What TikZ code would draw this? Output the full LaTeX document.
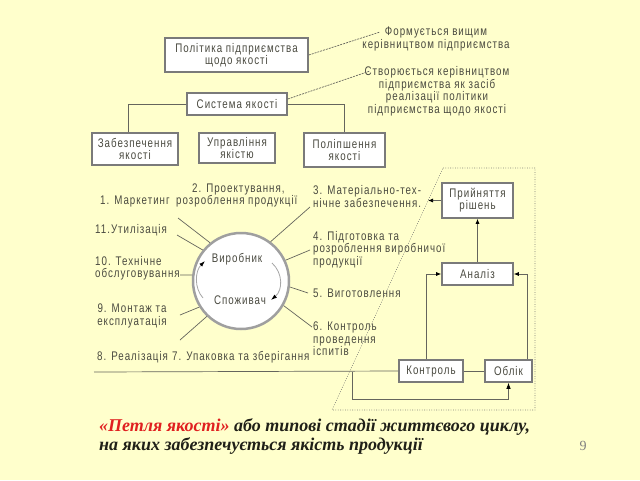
\documentclass[tikz,border=0pt]{standalone}
\usepackage{fontspec}
\setmainfont{Liberation Serif}
\newfontfamily\df[FakeStretch=0.78,LetterSpace=8]{Liberation Sans}
\usetikzlibrary{arrows.meta}
\definecolor{bg}{HTML}{FFFFCC}
\definecolor{txt}{HTML}{4A4A40}
\definecolor{bord}{HTML}{7A7A7A}
\definecolor{capred}{HTML}{E02020}
\definecolor{capdark}{HTML}{202018}
\begin{document}
\begin{tikzpicture}[x=1pt,y=-1pt,
  box/.style={draw=bord, line width=1.6pt, fill=white, font=\df\fontsize{12.5}{12}\selectfont, text=txt, align=center, inner sep=0pt},
  lbl/.style={font=\df\fontsize{12.5}{12.5}\selectfont, text=txt, inner sep=0pt},
  ln/.style={draw=txt!85, line width=0.7pt},
  dsh/.style={ln, dash pattern=on 2pt off 1pt},
  arr/.style={ln, -{Latex[length=5pt,width=4pt,black]}},
  dotb/.style={draw=txt!70, line width=0.6pt, dash pattern=on 0.8pt off 1.6pt},
  cyc/.style={draw=gray!70, line width=0.8pt, -{Latex[length=6pt,width=4pt,black]}}
  ]
\fill[bg] (0,0) rectangle (640,480);
\useasboundingbox (0,0) rectangle (640,480);

% top tree
\node[box, minimum width=143pt, minimum height=34pt] (policy) at (236.5,55) {Політика підприємства\\щодо якості};
\node[box, minimum width=100pt, minimum height=22pt] (sys) at (237,104) {Система якості};
\node[box, minimum width=86pt, minimum height=32pt] (zab) at (135,149) {Забезпечення\\якості};
\node[box, minimum width=76pt, minimum height=30pt] (upr) at (237,148) {Управління\\якістю};
\node[box, minimum width=81pt, minimum height=34pt] (pol) at (344.5,150) {Поліпшення\\якості};
\draw[ln] (sys.west) -| ([xshift=-7pt]zab.north);
\draw[ln] (sys.east) -| (pol.north);

\node[lbl, align=center] (t1) at (436,39) {Формується вищим\\керівництвом підприємства};
\node[lbl, align=center] (t2) at (437,91.5) {Створюється керівництвом\\підприємства як засіб\\реалізації політики\\підприємства щодо якості};
\coordinate (c1) at (380,32);
\coordinate (c2) at (370,71);
\draw[dsh] (policy.east) -- (c1);
\draw[dsh] ([yshift=5pt]sys.east) -- (c2);

% circle
\node[circle, draw=gray!75, line width=2.5pt, fill=white, minimum size=96pt, inner sep=0pt] (circ) at (241,281) {};
\node[lbl] (vyr) at (237,259) {Виробник};
\node[lbl] (spo) at (240,300) {Споживач};
\draw[cyc] (203,298) .. controls (194,288) and (195,271) .. (205,261);
\draw[cyc] (272,263) .. controls (283,273) and (283,290) .. (271,300);

% labels around
\node[lbl, anchor=west] (l2) at (192,189) {2. Проектування,};
\node[lbl, anchor=west] (l1) at (100,201) {1. Маркетинг};
\node[lbl, anchor=west] (l2b) at (176,201) {розроблення продукції};
\node[lbl, anchor=west, align=left] (l3) at (313,196.5) {3. Матеріально-тех-\\нічне забезпечення.};
\node[lbl, anchor=west, align=left] (l4) at (313,249.5) {4. Підготовка та\\розроблення виробничої\\продукції};
\node[lbl, anchor=west] (l5) at (313,293) {5. Виготовлення};
\node[lbl, anchor=west, align=left] (l6) at (313,339) {6. Контроль\\проведення\\іспитів};
\node[lbl, anchor=west] (l7) at (172,357) {7. Упаковка та зберігання};
\node[lbl, anchor=west] (l8) at (97,357) {8. Реалізація};
\node[lbl, align=center] (l9) at (132,316) {9. Монтаж та\\експлуатація};
\node[lbl, anchor=west, align=left] (l10) at (95,268.5) {10. Технічне\\обслуговування};
\node[lbl, anchor=west] (l11) at (95,230) {11.Утилізація};

% spokes
\coordinate (s1) at (178,218);
\coordinate (s11) at (177,235);
\coordinate (s10) at (180,275);
\coordinate (s9) at (180,315);
\coordinate (s8) at (180,340);
\coordinate (s2) at (310,207);
\coordinate (s4) at (310,250);
\coordinate (s5) at (308,293);
\coordinate (s6) at (312,327);
\draw[ln] (circ.129) -- (s1);
\draw[ln] (circ.141) -- (s11);
\draw[ln] (circ.173) -- (s10);
\draw[ln] (circ.212) -- (s9);
\draw[ln] (circ.226) -- (s8);
\draw[ln] (circ.53) -- (s2);
\draw[ln] (circ.25) -- (s4);
\draw[ln] (circ.-7) -- (s5);
\draw[ln] (circ.-30) -- (s6);

% right part
\node[box, minimum width=71pt, minimum height=35pt] (pr) at (477.5,200.5) {Прийняття\\рішень};
\node[box, minimum width=71pt, minimum height=22pt] (an) at (477.5,274) {Аналіз};
\node[box, minimum width=64pt, minimum height=22pt] (kon) at (431,371) {Контроль};
\node[box, minimum width=47pt, minimum height=22pt] (obl) at (508.5,371) {Облік};

\coordinate (pa) at (428,200.5);
\draw[arr] (pr.west) -- (pa);
\draw[arr] (an.north) -- (pr.south);
\draw[arr] ([xshift=-5pt]kon.north) |- (an.west);
\draw[arr] ([xshift=18.5pt]obl.north) |- (an.east);

\coordinate (lstart) at (94,372);
\coordinate (fb) at (352,372);
\draw[ln] (lstart) -- (kon.west);
\draw[ln] (kon.east) -- (obl.west);
\draw[ln, -{Latex[length=6pt,width=4.5pt,black]}] (fb) -- (352,399) -| (obl.south);

% dotted boundary
\draw[dotb] (443,168) -- (535,168) -- (535,410) -- (332,410) -- cycle;

% caption
\node[anchor=west, align=left, inner sep=0pt, font=\fontsize{18}{19}\selectfont\bfseries\itshape, text=capdark] (cap) at (99,436)
  {\textcolor{capred}{«Петля якості»} або типові стадії життєвого циклу,\\на яких забезпечується якість продукції};
\node[font=\fontsize{14}{14}\selectfont, text=gray] (pg) at (583,446) {9};
\end{tikzpicture}
\end{document}
